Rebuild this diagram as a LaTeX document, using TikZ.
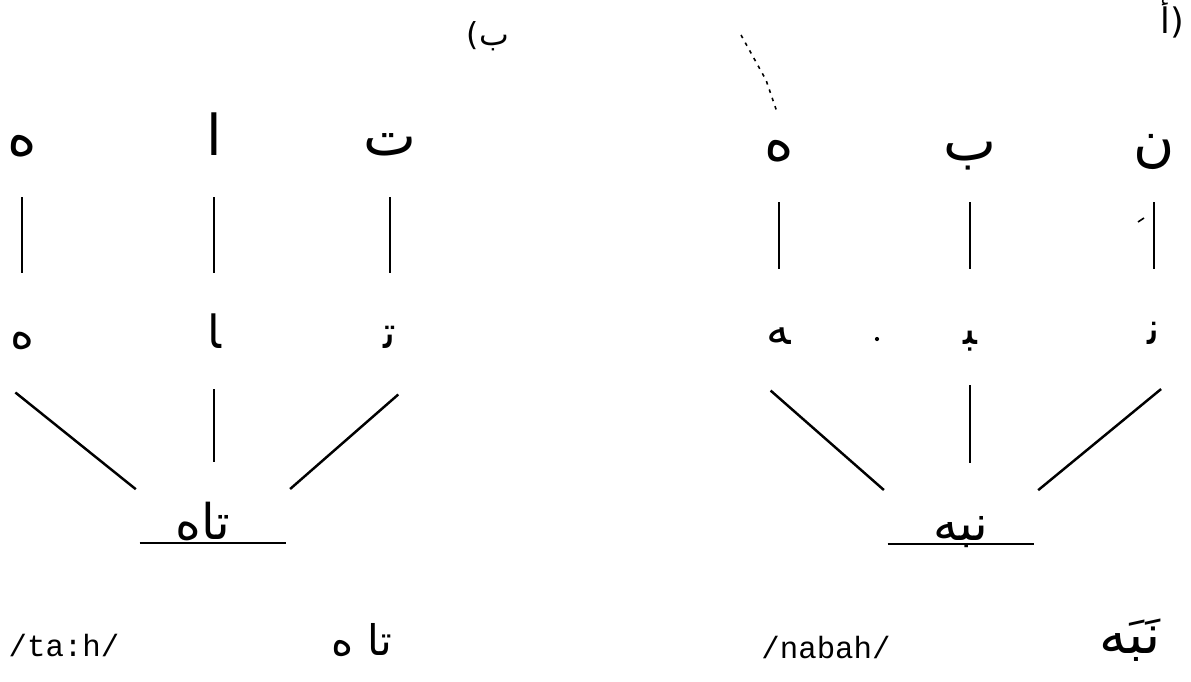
\documentclass[tikz,border=0pt]{standalone}
\usepackage{fontspec}
\setmonofont{Liberation Mono}
\newfontfamily\arabicfont[Script=Arabic]{DejaVu Sans}
\TeXXeTstate=1
\usetikzlibrary{calc}

\tikzset{
  harf/.style={font=\arabicfont\fontsize{32}{34}\selectfont, inner sep=0pt,
    text height=0.5cm, text depth=0.1cm, minimum width=2.2cm, anchor=base},
  harfmid/.style={harf, font=\arabicfont\fontsize{26}{28}\selectfont},
  kalima/.style={font=\arabicfont\fontsize{28}{30}\selectfont, inner sep=0pt,
    text height=0.94cm, text depth=0.06cm, minimum width=2.92cm, anchor=south},
  khatt/.style={line width=1.4pt},
  updown/.style={khatt, shorten <=0.74cm, shorten >=1.0cm},
  lower/.style={khatt, shorten <=0.72cm, shorten >=0.6cm},
  diag/.style={khatt, shorten <=1.25cm, shorten >=0.1cm},
  latin/.style={font=\ttfamily\fontsize{17.5}{20}\selectfont, inner sep=0pt, anchor=base},
  arword/.style={font=\arabicfont\fontsize{24}{26}\selectfont, inner sep=0pt, anchor=base}
}

\begin{document}
\begin{tikzpicture}[x=0.02cm, y=-0.02cm]
    \useasboundingbox (0,0) rectangle (1191,681);

    % Left tree (b): ta:h
    \node[arword, font=\arabicfont\fontsize{18}{20}\selectfont] (labB) at (488,45) {\beginR ب)\endR};
    \node[harf] (ha1) at (22,155) {ه};
    \node[harf] (alif1) at (214,155) {ا};
    \node[harf] (ta1) at (390,155) {ت};

    \node[harfmid] (ha2) at (22,348) {ه};
    \node[harfmid] (alif2) at (214,348) {^^^^200dا};
    \node[harfmid] (ta2) at (390,348) {ت^^^^200d};

    \node[kalima] (tah) at (213,543) {\hspace*{-0.4cm}تاه};
    \draw[khatt] (tah.south west) -- (tah.south east);

    \draw[updown] (ha1.south) -- (ha2.north);
    \draw[updown] (alif1.south) -- (alif2.north);
    \draw[updown] (ta1.south) -- (ta2.north);

    \draw[diag] (ha2.south west) -- (tah.north west);
    \draw[lower] (alif2.south) -- (alif2.south |- tah.north);
    \draw[diag] (ta2.south east) -- (tah.north east);

    \node[latin] (tahLat) at (64,656) {/ta:h/};
    \node[arword] (tahAr) at (362,655) {\beginR تا ه\endR};

    % Right tree (a): nabah
    \node[arword, font=\arabicfont\fontsize{20}{22}\selectfont] (labA) at (1172,33) {(أ};
    \node[harf] (ha3) at (779,160) {ه};
    \node[harf] (ba3) at (970,160) {ب};
    \node[harf] (nun3) at (1154,160) {ن};

    \node[harfmid] (ha4) at (779,344) {^^^^200dه};
    \node[harfmid] (ba4) at (970,344) {^^^^200dب^^^^200d};
    \node[harfmid] (nun4) at (1154,344) {ن^^^^200d};

    \node[kalima] (nbh) at (961,544) {نبه};
    \draw[khatt] (nbh.south west) -- (nbh.south east);

    \draw[updown] (ha3.south) -- (ha4.north);
    \draw[updown] (ba3.south) -- (ba4.north);
    \draw[updown] (nun3.south) -- (nun4.north);

    \draw[diag] (ha4.south west) -- (nbh.north west);
    \draw[lower] (ba4.south) -- (ba4.south |- nbh.north);
    \draw[diag] (nun4.south east) -- (nbh.north east);

    \node[latin] (nbhLat) at (826,658) {/nabah/};
    \node[arword, font=\arabicfont\fontsize{31}{33}\selectfont] (nbhAr) at (1130,653) {نَبَه};

    % stray pen marks of the scan
    \draw[line width=0.9pt, dash pattern=on 2pt off 3pt] (741,35) -- (766,80) -- (777,112);
    \fill (877,339) circle (1.2pt);
    \draw[line width=0.9pt] (1138,222) -- (1144,218);
\end{tikzpicture}
\end{document}
